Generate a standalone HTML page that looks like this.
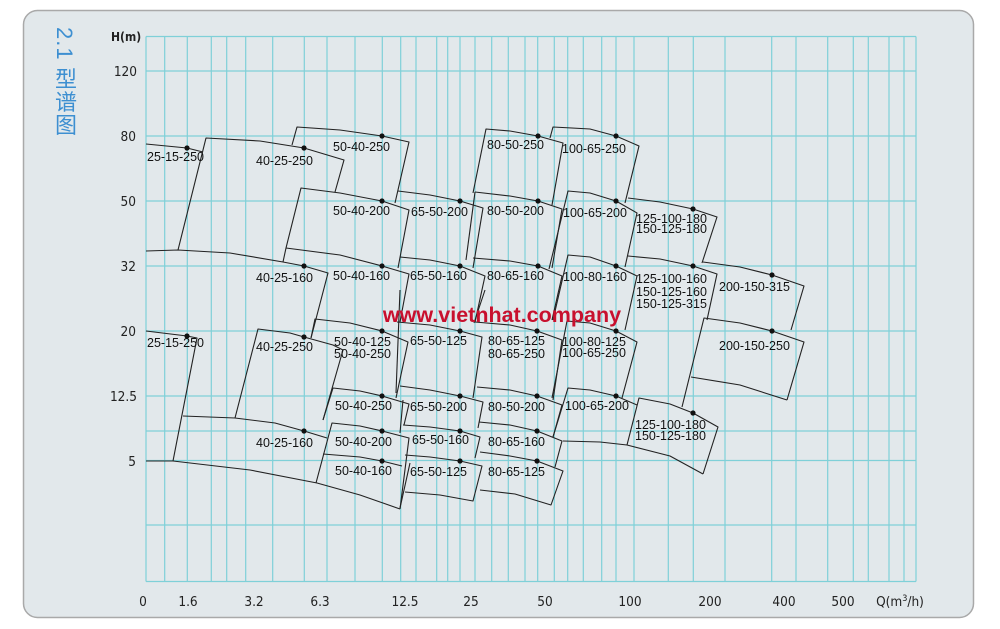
<!DOCTYPE html>
<html><head><meta charset="utf-8"><style>
html,body{margin:0;padding:0;background:#fff;}
body{width:1000px;height:629px;overflow:hidden;position:relative;}
svg{position:absolute;left:0;top:0;}
</style></head><body>
<svg width="1000" height="629" viewBox="0 0 1000 629" xmlns="http://www.w3.org/2000/svg">
<rect x="23.5" y="10.5" width="950" height="607" rx="14" fill="#e2e8eb" stroke="#a9a9a9" stroke-width="1.5"/>
<g stroke="#7fd0d8" stroke-width="1.2">
<line x1="146" y1="36.5" x2="916" y2="36.5"/>
<line x1="146" y1="71" x2="916" y2="71"/>
<line x1="146" y1="136" x2="916" y2="136"/>
<line x1="146" y1="201" x2="916" y2="201"/>
<line x1="146" y1="266" x2="916" y2="266"/>
<line x1="146" y1="331" x2="916" y2="331"/>
<line x1="146" y1="396" x2="916" y2="396"/>
<line x1="146" y1="431" x2="916" y2="431"/>
<line x1="146" y1="460.5" x2="916" y2="460.5"/>
<line x1="146" y1="525" x2="916" y2="525"/>
<line x1="146" y1="581.5" x2="916" y2="581.5"/>
<g>
<line x1="146" y1="36.5" x2="146" y2="581.5"/><line x1="164.7" y1="36.5" x2="164.7" y2="581.5"/><line x1="187.3" y1="36.5" x2="187.3" y2="581.5"/><line x1="211.3" y1="36.5" x2="211.3" y2="581.5"/><line x1="226.7" y1="36.5" x2="226.7" y2="581.5"/><line x1="245.7" y1="36.5" x2="245.7" y2="581.5"/><line x1="272.7" y1="36.5" x2="272.7" y2="581.5"/><line x1="304.3" y1="36.5" x2="304.3" y2="581.5"/><line x1="327" y1="36.5" x2="327" y2="581.5"/><line x1="355" y1="36.5" x2="355" y2="581.5"/><line x1="382.3" y1="36.5" x2="382.3" y2="581.5"/><line x1="400.7" y1="36.5" x2="400.7" y2="581.5"/><line x1="416" y1="36.5" x2="416" y2="581.5"/><line x1="436.7" y1="36.5" x2="436.7" y2="581.5"/><line x1="447.7" y1="36.5" x2="447.7" y2="581.5"/><line x1="460" y1="36.5" x2="460" y2="581.5"/><line x1="475" y1="36.5" x2="475" y2="581.5"/><line x1="491.7" y1="36.5" x2="491.7" y2="581.5"/><line x1="508.3" y1="36.5" x2="508.3" y2="581.5"/><line x1="525" y1="36.5" x2="525" y2="581.5"/><line x1="537.7" y1="36.5" x2="537.7" y2="581.5"/><line x1="554.3" y1="36.5" x2="554.3" y2="581.5"/><line x1="567.7" y1="36.5" x2="567.7" y2="581.5"/><line x1="583.3" y1="36.5" x2="583.3" y2="581.5"/><line x1="601.7" y1="36.5" x2="601.7" y2="581.5"/><line x1="616" y1="36.5" x2="616" y2="581.5"/><line x1="634" y1="36.5" x2="634" y2="581.5"/><line x1="668.3" y1="36.5" x2="668.3" y2="581.5"/><line x1="693.3" y1="36.5" x2="693.3" y2="581.5"/><line x1="725" y1="36.5" x2="725" y2="581.5"/><line x1="771.7" y1="36.5" x2="771.7" y2="581.5"/><line x1="796" y1="36.5" x2="796" y2="581.5"/><line x1="827.7" y1="36.5" x2="827.7" y2="581.5"/><line x1="853.3" y1="36.5" x2="853.3" y2="581.5"/><line x1="868.3" y1="36.5" x2="868.3" y2="581.5"/><line x1="889" y1="36.5" x2="889" y2="581.5"/><line x1="904" y1="36.5" x2="904" y2="581.5"/><line x1="916" y1="36.5" x2="916" y2="581.5"/>
</g></g>
<g fill="none" stroke="#222" stroke-width="1.1" stroke-linejoin="round">
<path d="M146,144 L187,148 L203,152"/>
<path d="M178,250 L206,138 L260,141 L304,148 L344,160 L335,192"/>
<path d="M292,145 L297,127 L340,130 L382,136 L409,142 L395,203"/>
<path d="M286,248 L301,188 L340,193 L382,201 L409,210 L398,268"/>
<path d="M146,251 L178,250 L230,253 L283,262 L304,266 L328,273 L311,338"/>
<path d="M283,262 L286,248 L340,255 L382,266 L409,274 L400,322"/>
<path d="M398,191 L430,195 L460,201 L483,208 L473,268"/>
<path d="M400,257 L430,260 L460,266 L485,276 L475,322"/>
<path d="M473,193 L486,129 L510,131 L538,136 L563,143 L552,205"/>
<path d="M475,192 L510,196 L538,201 L562,209 L552,268"/>
<path d="M475,192 L466,260"/>
<path d="M473,258 L510,261 L538,266 L562,276 L552,320"/>
<path d="M550,138 L553,127 L590,129 L616,136 L639,146 L625,203"/>
<path d="M549,269 L568,191 L590,193 L616,201 L637,213 L625,267"/>
<path d="M553,320 L568,255 L590,257 L616,266 L637,276 L625,330"/>
<path d="M628,198 L660,202 L693,209 L717,217 L702,263"/>
<path d="M628,256 L660,259 L693,266 L717,274 L707,320"/>
<path d="M703,262 L740,267 L772,275 L804,286 L791,330"/>
<path d="M682,407 L704,318 L740,323 L772,331 L804,342 L787,400 M691,377 L740,385 L787,400"/>
<path d="M146,331 L187,336 L197,338 L173,461"/>
<path d="M146,461 L173,461 L250,470 L317,483 L360,495 L400,509"/>
<path d="M183,416 L235,418 L275,423 L304,431 L327,438"/>
<path d="M235,418 L258,329 L290,333 L304,337 L333,345 L343,350 L323,420"/>
<path d="M311,338 L315,319 L350,323 L382,331 L408,342 L396,398"/>
<path d="M323,420 L333,388 L360,391 L382,396 L409,404 L404,425"/>
<path d="M316,483 L332,423 L360,426 L382,431 L409,438 L400,509"/>
<path d="M323,454 L360,457 L382,461 L402,466"/>
<path d="M400,290 L396,393"/>
<path d="M397,322 L430,325 L460,331 L482,337 L473,398"/>
<path d="M400,386 L430,390 L460,396 L483,402 L478,428"/>
<path d="M403,400 L400,433"/>
<path d="M403,425 L430,427 L460,431 L480,437 L475,458"/>
<path d="M405,455 L430,457 L460,461 L482,466 L473,501 L440,495 L405,492"/>
<path d="M410,463 L400,508"/>
<path d="M474,323 L485,290"/>
<path d="M475,322 L510,325 L537,331 L562,340 L553,400"/>
<path d="M477,387 L510,390 L537,396 L562,405 L553,437"/>
<path d="M479,422 L510,425 L537,431 L562,441 L555,467"/>
<path d="M480,452 L510,456 L537,461 L563,471 L551,505 L515,494 L480,490"/>
<path d="M552,398 L567,321 L590,323 L616,331 L637,342 L622,398"/>
<path d="M553,437 L568,388 L590,390 L616,396 L637,405"/>
<path d="M627,445 L639,398 L670,404 L693,413 L718,427 L703,474"/>
<path d="M563,441 L600,442 L627,445 L670,456 L703,474"/>
</g>
<g fill="#111">
<circle cx="187" cy="148" r="2.6"/><circle cx="304" cy="148" r="2.6"/><circle cx="382" cy="136" r="2.6"/><circle cx="382" cy="201" r="2.6"/><circle cx="304" cy="266" r="2.6"/><circle cx="382" cy="266" r="2.6"/><circle cx="460" cy="201" r="2.6"/><circle cx="460" cy="266" r="2.6"/><circle cx="538" cy="136" r="2.6"/><circle cx="538" cy="201" r="2.6"/><circle cx="538" cy="266" r="2.6"/><circle cx="616" cy="136" r="2.6"/><circle cx="616" cy="201" r="2.6"/><circle cx="616" cy="266" r="2.6"/><circle cx="693" cy="209" r="2.6"/><circle cx="693" cy="266" r="2.6"/><circle cx="772" cy="275" r="2.6"/><circle cx="772" cy="331" r="2.6"/>
<circle cx="187" cy="336" r="2.6"/><circle cx="304" cy="337" r="2.6"/><circle cx="382" cy="331" r="2.6"/><circle cx="460" cy="331" r="2.6"/><circle cx="537" cy="331" r="2.6"/><circle cx="616" cy="331" r="2.6"/><circle cx="382" cy="396" r="2.6"/><circle cx="460" cy="396" r="2.6"/><circle cx="537" cy="396" r="2.6"/><circle cx="616" cy="396" r="2.6"/><circle cx="304" cy="431" r="2.6"/><circle cx="382" cy="431" r="2.6"/><circle cx="460" cy="431" r="2.6"/><circle cx="537" cy="431" r="2.6"/><circle cx="382" cy="461" r="2.6"/><circle cx="460" cy="461" r="2.6"/><circle cx="537" cy="461" r="2.6"/><circle cx="693" cy="413" r="2.6"/>
</g>
<g font-family="Liberation Sans, sans-serif" font-size="12.5" fill="#111">
<text x="147" y="161">25-15-250</text>
<text x="256" y="165">40-25-250</text>
<text x="333" y="151">50-40-250</text>
<text x="333" y="215">50-40-200</text>
<text x="256" y="282">40-25-160</text>
<text x="333" y="280">50-40-160</text>
<text x="411" y="216">65-50-200</text>
<text x="410" y="280">65-50-160</text>
<text x="487" y="149">80-50-250</text>
<text x="487" y="215">80-50-200</text>
<text x="487" y="280">80-65-160</text>
<text x="562" y="153">100-65-250</text>
<text x="563" y="217">100-65-200</text>
<text x="563" y="281">100-80-160</text>
<text x="636" y="223">125-100-180</text>
<text x="636" y="233">150-125-180</text>
<text x="636" y="283">125-100-160</text>
<text x="636" y="296">150-125-160</text>
<text x="636" y="308">150-125-315</text>
<text x="719" y="291">200-150-315</text>
<text x="719" y="350">200-150-250</text>
<text x="147" y="347">25-15-250</text>
<text x="256" y="351">40-25-250</text>
<text x="334" y="346">50-40-125</text>
<text x="334" y="358">50-40-250</text>
<text x="410" y="345">65-50-125</text>
<text x="488" y="345">80-65-125</text>
<text x="488" y="358">80-65-250</text>
<text x="562" y="346">100-80-125</text>
<text x="562" y="357">100-65-250</text>
<text x="335" y="410">50-40-250</text>
<text x="410" y="411">65-50-200</text>
<text x="488" y="411">80-50-200</text>
<text x="565" y="410">100-65-200</text>
<text x="256" y="447">40-25-160</text>
<text x="335" y="446">50-40-200</text>
<text x="412" y="444">65-50-160</text>
<text x="488" y="446">80-65-160</text>
<text x="335" y="475">50-40-160</text>
<text x="410" y="476">65-50-125</text>
<text x="488" y="476">80-65-125</text>
<text x="635" y="429">125-100-180</text>
<text x="635" y="440">150-125-180</text>
</g>
<text x="502" y="322" text-anchor="middle" font-family="Liberation Sans, sans-serif" font-size="21.5" font-weight="bold" fill="#c8102e">www.vietnhat.company</text>
<g font-family="DejaVu Sans Condensed, Liberation Sans, sans-serif" font-size="13.5" fill="#222" text-anchor="end">
<text x="137" y="76">120</text><text x="136" y="141">80</text><text x="136" y="206">50</text><text x="136" y="271">32</text><text x="137" y="401">12.5</text><text x="136" y="336">20</text><text x="136" y="466">5</text>
</g>
<text x="111" y="41" font-family="DejaVu Sans Condensed, Liberation Sans, sans-serif" font-size="12" font-weight="bold" fill="#222">H(m)</text>
<g font-family="DejaVu Sans Condensed, Liberation Sans, sans-serif" font-size="13.5" fill="#222" text-anchor="middle">
<text x="143" y="606">0</text><text x="188" y="606">1.6</text><text x="254" y="606">3.2</text><text x="320" y="606">6.3</text><text x="405" y="606">12.5</text><text x="471" y="606">25</text><text x="545" y="606">50</text><text x="630" y="606">100</text><text x="710" y="606">200</text><text x="784" y="606">400</text><text x="843" y="606">500</text>
<text x="900" y="606">Q(m<tspan font-size="9" dy="-5">3</tspan><tspan dy="5">/h)</tspan></text>
</g>
</svg>
<div style="position:absolute;left:51px;top:27px;writing-mode:vertical-rl;font-family:'Liberation Sans','Noto Sans CJK SC',sans-serif;font-size:22px;color:#3d8fd1;line-height:26px;letter-spacing:1px;">2.1&nbsp;型谱图</div>
</body></html>
